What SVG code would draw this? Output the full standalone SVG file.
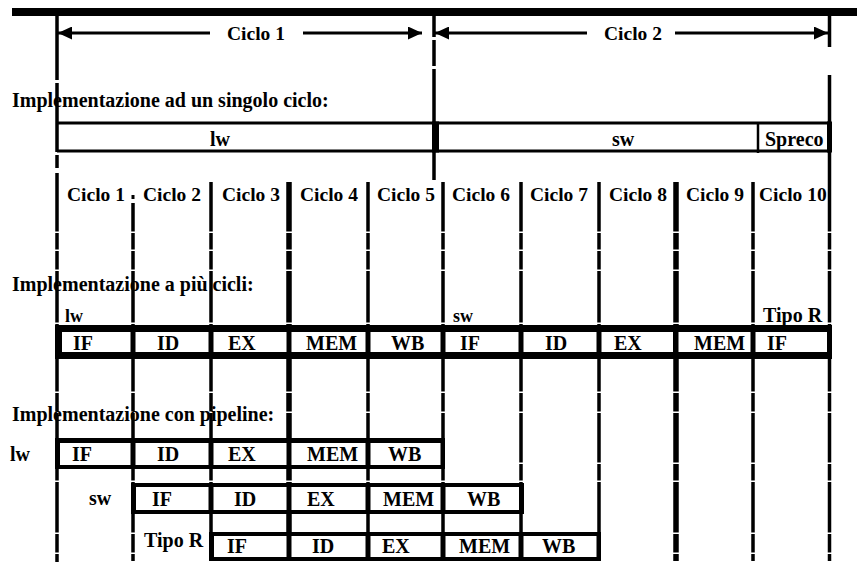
<svg xmlns="http://www.w3.org/2000/svg" width="857" height="568" viewBox="0 0 857 568">
<style>
.t{font-family:"Liberation Serif","Times New Roman",serif;font-weight:bold;font-size:20px;fill:#000}
.s{font-size:18px}
.c{font-size:19.5px}
.v{stroke:#000;stroke-width:3.5;fill:none}
.vt{stroke:#000;stroke-width:5.5;fill:none}
.h{stroke:#000;stroke-width:3;fill:none}
.a{stroke:#000;stroke-width:3;fill:none}
.blk{fill:#000}
.cell{fill:#fff}
</style>
<defs>
<marker id="arr" viewBox="0 0 14 13" refX="14" refY="6.5" markerWidth="14" markerHeight="13" markerUnits="userSpaceOnUse" orient="auto">
<path d="M0,0 L14,6.5 L0,13 z" fill="#000"/>
</marker>
<mask id="gaps" maskUnits="userSpaceOnUse" x="0" y="0" width="857" height="568">
<rect x="0" y="0" width="857" height="568" fill="#fff"/>
<g fill="#000">
<rect x="0" y="231.5" width="857" height="1.5"/>
<rect x="0" y="249.5" width="857" height="1.5"/>
<rect x="0" y="269.5" width="857" height="1.5"/>
<rect x="0" y="322.5" width="857" height="1.5"/>
<rect x="0" y="391.5" width="857" height="1.5"/>
<rect x="0" y="411.5" width="857" height="1.5"/>
<rect x="0" y="462.5" width="857" height="1.5"/>
<rect x="0" y="480.5" width="857" height="1.5"/>
<rect x="0" y="532.5" width="857" height="1.5"/>
<rect x="0" y="552.5" width="857" height="1.5"/>
</g>
</mask>
</defs>
<rect x="0" y="0" width="857" height="568" fill="#fff"/>

<!-- top bar -->
<rect x="12" y="8" width="845" height="8" class="blk"/>

<!-- section titles (under the grid lines) -->
<g id="titles">
<text class="t" x="12" y="107">Implementazione ad un singolo ciclo:</text>
<text class="t" x="12" y="291">Implementazione a più cicli:</text>
<text class="t" x="12" y="421">Implementazione con pipeline:</text>
</g>

<!-- column lines -->
<g id="grid" mask="url(#gaps)">
<path class="v" d="M57,16V80M57,83V152M57,155V168M57,173V562"/>
<path class="v" d="M434,16V37M434,40V66M434,69V180"/>
<path class="v" d="M829.5,16V47M829.5,75V561"/>
<path class="v" d="M133,203V561M211,182V561M368,182V561M443,182V561M521,182V561M599,182V561M753,182V561"/>
<path class="vt" d="M289,182V561M676,182V561"/>
<rect x="131.5" y="195" width="3" height="4" class="blk"/>
</g>

<!-- arrows: Ciclo 1 / Ciclo 2 -->
<g id="connectors">
<line class="a" x1="210" y1="33" x2="58" y2="33" marker-end="url(#arr)"/>
<line class="a" x1="303" y1="33" x2="422" y2="33" marker-end="url(#arr)"/>
<line class="a" x1="587" y1="33" x2="435" y2="33" marker-end="url(#arr)"/>
<line class="a" x1="675" y1="33" x2="828" y2="33" marker-end="url(#arr)"/>
</g>
<g id="cycle-labels">
<text class="t c" x="227" y="40">Ciclo 1</text>
<text class="t c" x="604" y="40">Ciclo 2</text>
</g>

<!-- single cycle row -->
<g id="single-row">
<path class="h" d="M57,123H830M57,151H830"/>
<rect x="432" y="121.5" width="7" height="31" class="blk"/>
<path d="M758,122V153" stroke="#000" stroke-width="2.5"/>
<text class="t" x="210" y="146">lw</text>
<text class="t" x="612" y="146">sw</text>
<text class="t" x="765" y="146">Spreco</text>
<rect x="827" y="121.5" width="5" height="31" class="blk"/>
</g>

<!-- cycle header -->
<g id="header">
<text class="t c" x="67" y="201">Ciclo 1</text>
<text class="t c" x="143" y="201">Ciclo 2</text>
<text class="t c" x="222" y="201">Ciclo 3</text>
<text class="t c" x="300" y="201">Ciclo 4</text>
<text class="t c" x="377" y="201">Ciclo 5</text>
<text class="t c" x="452" y="201">Ciclo 6</text>
<text class="t c" x="530" y="201">Ciclo 7</text>
<text class="t c" x="609" y="201">Ciclo 8</text>
<text class="t c" x="686" y="201">Ciclo 9</text>
<text class="t c" x="759" y="201">Ciclo 10</text>
</g>

<!-- multi-cycle row -->
<g id="multi-row">
<rect x="55" y="325" width="777" height="34" class="blk"/>
<rect class="cell" x="62" y="332" width="68.5" height="20"/>
<rect class="cell" x="135.5" y="332" width="73" height="20"/>
<rect class="cell" x="213.5" y="332" width="73" height="20"/>
<rect class="cell" x="291.5" y="332" width="74" height="20"/>
<rect class="cell" x="370.5" y="332" width="70" height="20"/>
<rect class="cell" x="445.5" y="332" width="73" height="20"/>
<rect class="cell" x="523.5" y="332" width="73" height="20"/>
<rect class="cell" x="601.5" y="332" width="71.5" height="20"/>
<rect class="cell" x="678.5" y="332" width="72" height="20"/>
<rect class="cell" x="755.5" y="332" width="71.5" height="20"/>
<text class="t s" x="65" y="322">lw</text>
<text class="t s" x="453" y="322">sw</text>
<text class="t" x="763" y="322">Tipo R</text>
<text class="t" x="73" y="350">IF</text>
<text class="t" x="157" y="350">ID</text>
<text class="t" x="228" y="350">EX</text>
<text class="t" x="306" y="350">MEM</text>
<text class="t" x="391" y="350">WB</text>
<text class="t" x="460" y="350">IF</text>
<text class="t" x="545" y="350">ID</text>
<text class="t" x="614" y="350">EX</text>
<text class="t" x="694" y="350">MEM</text>
<text class="t" x="767" y="350">IF</text>
</g>

<!-- pipeline: lw -->
<g id="pipe-lw">
<rect x="55" y="438" width="390" height="31" class="blk"/>
<rect class="cell" x="60" y="443" width="70.5" height="22"/>
<rect class="cell" x="135.5" y="443" width="73" height="22"/>
<rect class="cell" x="213.5" y="443" width="73" height="22"/>
<rect class="cell" x="291.5" y="443" width="74" height="22"/>
<rect class="cell" x="370.5" y="443" width="70" height="22"/>
<text class="t" x="10" y="461">lw</text>
<text class="t" x="72" y="461">IF</text>
<text class="t" x="157" y="461">ID</text>
<text class="t" x="228" y="461">EX</text>
<text class="t" x="307" y="461">MEM</text>
<text class="t" x="388" y="461">WB</text>
</g>

<!-- pipeline: sw -->
<g id="pipe-sw">
<rect x="131" y="483" width="393" height="31" class="blk"/>
<rect class="cell" x="136" y="487" width="72.5" height="23"/>
<rect class="cell" x="213.5" y="487" width="73" height="23"/>
<rect class="cell" x="291.5" y="487" width="74" height="23"/>
<rect class="cell" x="370.5" y="487" width="70" height="23"/>
<rect class="cell" x="445.5" y="487" width="73.5" height="23"/>
<text class="t" x="89" y="505">sw</text>
<text class="t" x="152" y="506">IF</text>
<text class="t" x="234" y="506">ID</text>
<text class="t" x="307" y="506">EX</text>
<text class="t" x="383" y="506">MEM</text>
<text class="t" x="467" y="506">WB</text>
</g>

<!-- pipeline: Tipo R -->
<g id="pipe-r">
<rect x="209" y="532" width="392" height="29" class="blk"/>
<rect class="cell" x="214" y="536" width="72.5" height="21"/>
<rect class="cell" x="291.5" y="536" width="74" height="21"/>
<rect class="cell" x="370.5" y="536" width="70" height="21"/>
<rect class="cell" x="445.5" y="536" width="73" height="21"/>
<rect class="cell" x="523.5" y="536" width="73" height="21"/>
<text class="t" x="144" y="547">Tipo R</text>
<text class="t" x="227" y="553">IF</text>
<text class="t" x="312" y="553">ID</text>
<text class="t" x="382" y="553">EX</text>
<text class="t" x="459" y="553">MEM</text>
<text class="t" x="542" y="553">WB</text>
</g>
</svg>
